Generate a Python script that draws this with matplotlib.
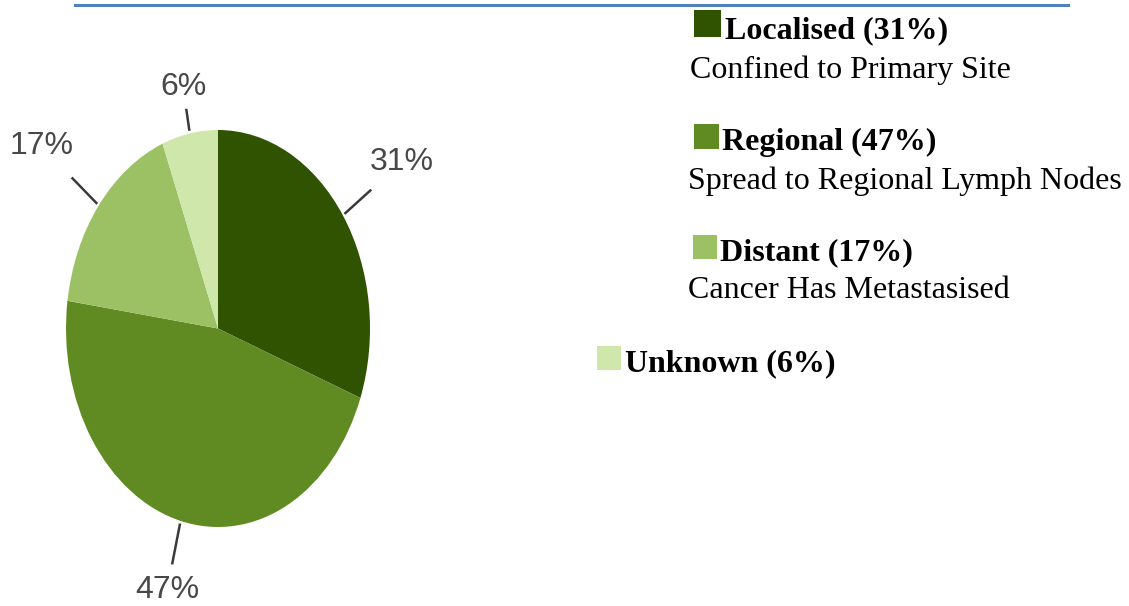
import matplotlib
matplotlib.use("Agg")
import numpy as np
import matplotlib.pyplot as plt
from matplotlib.patches import Rectangle

# data
stages = ["Localised", "Regional", "Distant", "Unknown"]
shares = [31, 47, 17, 6]
descriptions = ["Confined to Primary Site", "Spread to Regional Lymph Nodes",
                "Cancer Has Metastasised", ""]
colors = ["#2f5300", "#5f8b22", "#9cc165", "#cfe7aa"]

W, H = 1129, 606
fig = plt.figure(figsize=(W / 100, H / 100), dpi=100)

# pie (ellipse, taller than wide)
px0, px1, py0, py1 = 66, 370, 130, 527
ax_pie = fig.add_axes([px0 / W, 1 - py1 / H, (px1 - px0) / W, (py1 - py0) / H])
wedges, _ = ax_pie.pie(shares, colors=colors, startangle=90, counterclock=False,
                       wedgeprops=dict(linewidth=0))
ax_pie.set_aspect("auto")
ax_pie.set_xlim(-1, 1)
ax_pie.set_ylim(-1, 1)
ax_pie.axis("off")

# leader line end radius, label radius
label_r = [(1.22, 1.47), (1.22, 1.36), (1.22, 1.48), (1.12, 1.24)]
for w, v, (le, lr) in zip(wedges, shares, label_r):
    ang = np.deg2rad((w.theta1 + w.theta2) / 2)
    c, s = np.cos(ang), np.sin(ang)
    ax_pie.plot([1.02 * c, le * c], [1.02 * s, le * s], color="#3a3a3a",
                lw=1.8, clip_on=False)
    ax_pie.text(lr * c, lr * s, "%d%%" % v, ha="center", va="center",
                fontsize=23, color="#484848", clip_on=False,
                family=["Liberation Sans", "DejaVu Sans"])

# overlay in pixel coordinates
ax = fig.add_axes([0, 0, 1, 1])
ax.set_xlim(0, W)
ax.set_ylim(H, 0)
ax.axis("off")

ax.plot([75, 1068], [5, 5], color="#4f81bd", lw=2.2)

serif = "Liberation Serif"
# square x, square size, text x, baseline, description x, description baseline
rows = [(694, 27, 725, 38, 690, 78), (694, 25, 722, 150, 688, 189),
        (693, 24, 720, 260, 688, 298), (597, 24, 625, 371, None, None)]
for (sx, sz, tx, by, dx, dy), name, v, desc, col in zip(rows, stages, shares, descriptions, colors):
    ax.add_patch(Rectangle((sx, by - sz - 1), sz, sz, color=col, lw=0))
    ax.text(tx, by, "%s (%d%%)" % (name, v), fontsize=23, fontweight="bold",
            family=serif, va="baseline", ha="left", color="black")
    if desc:
        ax.text(dx, dy, desc, fontsize=23, family=serif, va="baseline",
                ha="left", color="black")

fig.savefig("out.png", dpi=100)
